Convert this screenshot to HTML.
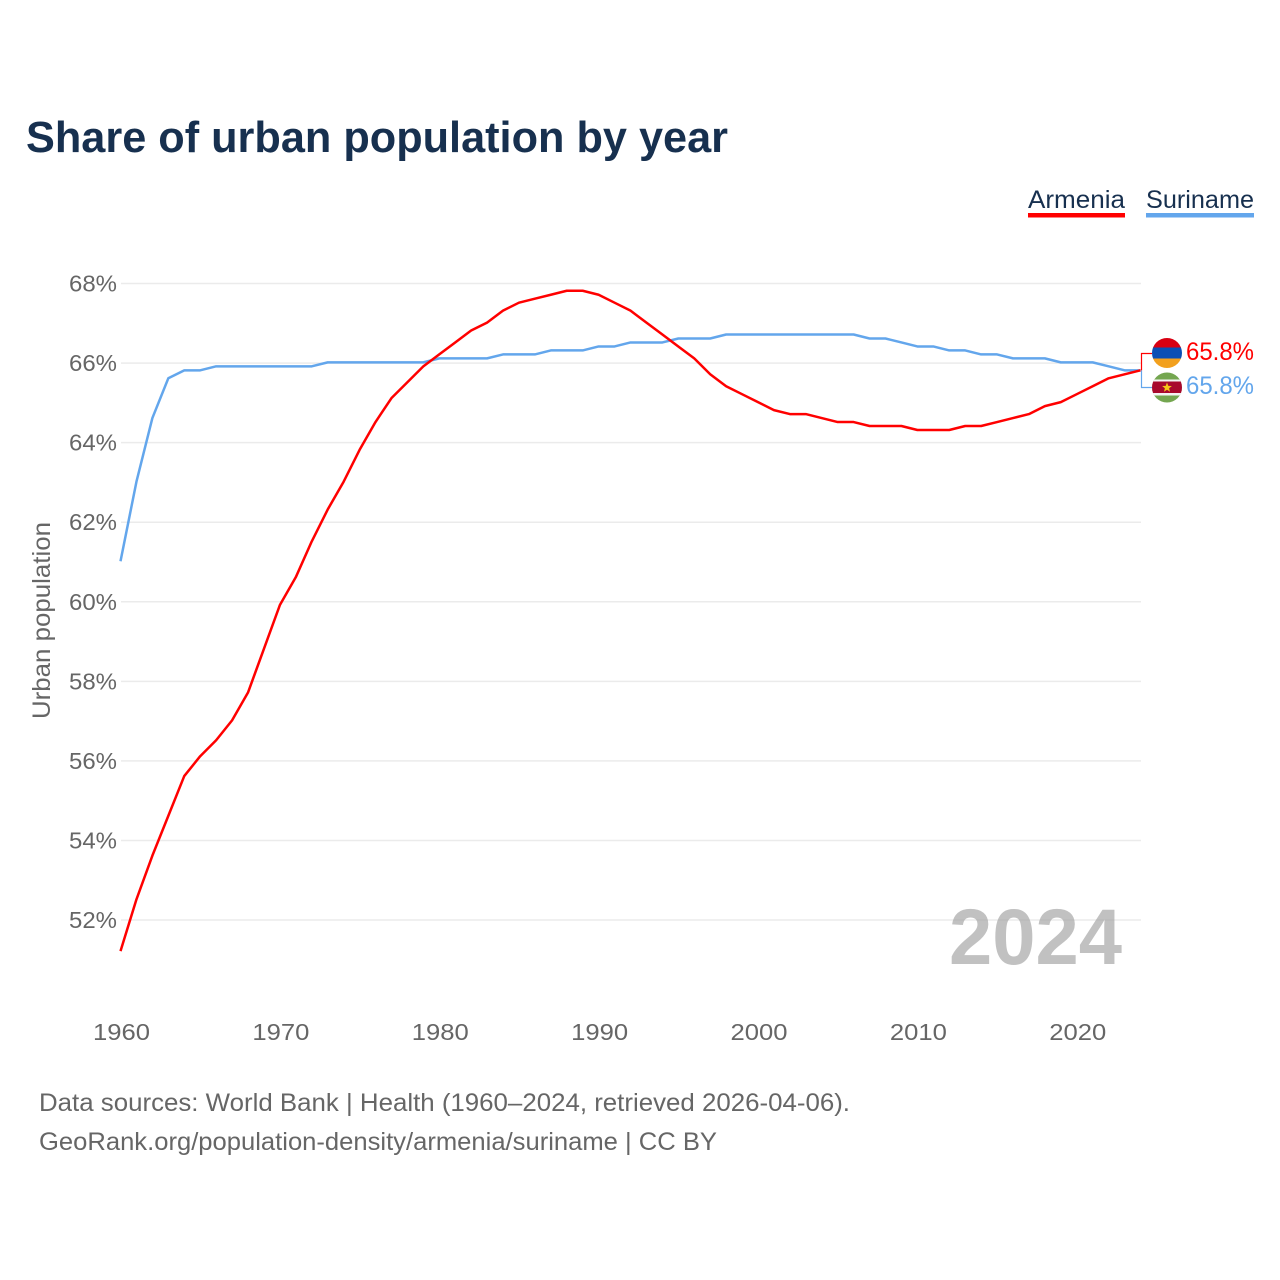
<!DOCTYPE html>
<html lang="en">
<head>
<meta charset="utf-8">
<title>Share of urban population by year</title>
<style>
html,body{margin:0;padding:0;background:#fff;width:1280px;height:1280px;overflow:hidden}
svg{display:block}
text{font-family:"Liberation Sans",sans-serif}
</style>
</head>
<body>
<svg id="chart" xmlns="http://www.w3.org/2000/svg" width="1280" height="1280" viewBox="0 0 1280 1280">
  <defs>
    <clipPath id="clip-am"><circle cx="1167" cy="353" r="15"/></clipPath>
    <clipPath id="clip-sr"><circle cx="1167" cy="387.500" r="15"/></clipPath>
  </defs>
  <rect width="1280" height="1280" fill="#fff"/>
  <text x="26" y="152" font-size="44" font-weight="700" fill="#17304f" textLength="702" lengthAdjust="spacingAndGlyphs">Share of urban population by year</text>

  <g>
    <g>
      <text x="1028" y="208" font-size="25" fill="#17304f" textLength="97" lengthAdjust="spacingAndGlyphs">Armenia</text>
      <rect x="1028" y="213" width="97" height="4.500" fill="#ff0000"/>
    </g>
    <g>
      <text x="1146" y="208" font-size="25" fill="#17304f" textLength="108" lengthAdjust="spacingAndGlyphs">Suriname</text>
      <rect x="1146" y="213" width="108" height="4.500" fill="#63a6ec"/>
    </g>
  </g>

  <g id="grid"></g>
  <g id="yticks"></g>
  <g id="xticks"></g>

  <text transform="translate(50,719) rotate(-90)" font-size="25" fill="#666" textLength="197" lengthAdjust="spacingAndGlyphs">Urban population</text>

  <text x="949" y="964" font-size="79" font-weight="700" fill="#a6a6a6" fill-opacity="0.7" textLength="173" lengthAdjust="spacingAndGlyphs">2024</text>

  <polyline id="bracket-am" points="" style="fill:none;stroke:#ff0000;stroke-width:1.2"></polyline>
  <polyline id="bracket-sr" points="" style="fill:none;stroke:#63a6ec;stroke-width:1.2"></polyline>

  <g id="series" transform="translate(-0.5,-0.7)"></g>

  <g clip-path="url(#clip-am)">
    <rect x="1150" y="336" width="34" height="11.500" fill="#d90012"/>
    <rect x="1150" y="347.500" width="34" height="11" fill="#0a4fb5"/>
    <rect x="1150" y="358.500" width="34" height="11" fill="#f2a01e"/>
  </g>
  <g clip-path="url(#clip-sr)">
    <rect x="1150" y="370" width="34" height="36" fill="#74a650"/>
    <rect x="1150" y="379.500" width="34" height="16" fill="#f3f3f3"/>
    <rect x="1150" y="381.500" width="34" height="11.500" fill="#a8082c"/>
    <polygon points="1167,382.500 1168.300,385.900 1171.900,386 1169.100,388.200 1170,391.700 1167,389.700 1164,391.700 1164.900,388.200 1162.100,386 1165.700,385.900" fill="#f5c518"/>
  </g>

  <text x="1186" y="360" font-size="25" fill="#ff0000" textLength="68" lengthAdjust="spacingAndGlyphs">65.8%</text>
  <text x="1186" y="394" font-size="25" fill="#63a6ec" textLength="68" lengthAdjust="spacingAndGlyphs">65.8%</text>

  <text x="39" y="1111" font-size="25" fill="#666" textLength="811" lengthAdjust="spacingAndGlyphs">Data sources: World Bank | Health (1960–2024, retrieved 2026-04-06).</text>
  <text x="39" y="1150" font-size="25" fill="#666" textLength="678" lengthAdjust="spacingAndGlyphs">GeoRank.org/population-density/armenia/suriname | CC BY</text>
</svg>
<script>
const startYear = 1960;
const armeniaValues = [51.2,52.5,53.6,54.6,55.6,56.1,56.5,57.0,57.7,58.8,59.9,60.6,61.5,62.3,63.0,63.8,64.5,65.1,65.5,65.9,66.2,66.5,66.8,67.0,67.3,67.5,67.6,67.7,67.8,67.8,67.7,67.5,67.3,67.0,66.7,66.4,66.1,65.7,65.4,65.2,65.0,64.8,64.7,64.7,64.6,64.5,64.5,64.4,64.4,64.4,64.3,64.3,64.3,64.4,64.4,64.5,64.6,64.7,64.9,65.0,65.2,65.4,65.6,65.7,65.8];
const surinameValues = [61.0,63.0,64.6,65.6,65.8,65.8,65.9,65.9,65.9,65.9,65.9,65.9,65.9,66.0,66.0,66.0,66.0,66.0,66.0,66.0,66.1,66.1,66.1,66.1,66.2,66.2,66.2,66.3,66.3,66.3,66.4,66.4,66.5,66.5,66.5,66.6,66.6,66.6,66.7,66.7,66.7,66.7,66.7,66.7,66.7,66.7,66.7,66.6,66.6,66.5,66.4,66.4,66.3,66.3,66.2,66.2,66.1,66.1,66.1,66.0,66.0,66.0,65.9,65.8,65.8];
const yTickValues = [52,54,56,58,60,62,64,66,68];
const xTickValues = [1960,1970,1980,1990,2000,2010,2020];

const SVG_NS = 'http://www.w3.org/2000/svg';
function xScale(year) { return 121 + (year - 1960) * (1020 / 64); }
function yScale(value) { return 920 - (value - 52) * (636.5 / 16); }

const gridGroup = document.getElementById('grid');
const yTickGroup = document.getElementById('yticks');
const xTickGroup = document.getElementById('xticks');
const seriesGroup = document.getElementById('series');

yTickValues.forEach(function (v) {
  const line = document.createElementNS(SVG_NS, 'line');
  line.setAttribute('x1', xScale(1960));
  line.setAttribute('x2', xScale(2024));
  line.setAttribute('y1', yScale(v));
  line.setAttribute('y2', yScale(v));
  line.setAttribute('stroke', '#ebebeb');
  line.setAttribute('stroke-width', '1.500');
  
  
  gridGroup.appendChild(line);

  const label = document.createElementNS(SVG_NS, 'text');
  label.setAttribute('x', 69);
  label.setAttribute('y', yScale(v) + 8);
  label.setAttribute('font-size', '23');
  label.setAttribute('fill', '#666');
  label.setAttribute('textLength', '48');
  label.setAttribute('lengthAdjust', 'spacingAndGlyphs');
  
  
  label.textContent = v + '%';
  yTickGroup.appendChild(label);
});

xTickValues.forEach(function (y) {
  const label = document.createElementNS(SVG_NS, 'text');
  label.setAttribute('x', xScale(y) - 28);
  label.setAttribute('y', 1040);
  label.setAttribute('font-size', '23');
  label.setAttribute('fill', '#666');
  label.setAttribute('textLength', '57');
  label.setAttribute('lengthAdjust', 'spacingAndGlyphs');
  
  
  label.textContent = y;
  xTickGroup.appendChild(label);
});

function pointsFor(values) {
  return values.map(function (v, i) {
    return xScale(startYear + i).toFixed(2) + ',' + yScale(v).toFixed(2);
  }).join(' ');
}

const surinameLine = document.createElementNS(SVG_NS, 'polyline');
surinameLine.setAttribute('points', pointsFor(surinameValues));
surinameLine.setAttribute('fill', 'none');
surinameLine.setAttribute('stroke', '#63a6ec');
surinameLine.setAttribute('stroke-width', '2.500');
surinameLine.setAttribute('stroke-linejoin', 'round');


seriesGroup.appendChild(surinameLine);

const armeniaLine = document.createElementNS(SVG_NS, 'polyline');
armeniaLine.setAttribute('points', pointsFor(armeniaValues));
armeniaLine.setAttribute('fill', 'none');
armeniaLine.setAttribute('stroke', '#ff0000');
armeniaLine.setAttribute('stroke-width', '2.500');
armeniaLine.setAttribute('stroke-linejoin', 'round');


seriesGroup.appendChild(armeniaLine);

const endX = xScale(2024) + 0.5;
const endAm = yScale(armeniaValues[armeniaValues.length - 1]) - 0.7;
const endSr = yScale(surinameValues[surinameValues.length - 1]) - 0.7;
document.getElementById('bracket-am').setAttribute('points', endX + ',' + endAm + ' ' + endX + ',353.5 1152,353.5');
document.getElementById('bracket-sr').setAttribute('points', endX + ',' + endSr + ' ' + endX + ',387.5 1152,387.5');
</script>
</body>
</html>
